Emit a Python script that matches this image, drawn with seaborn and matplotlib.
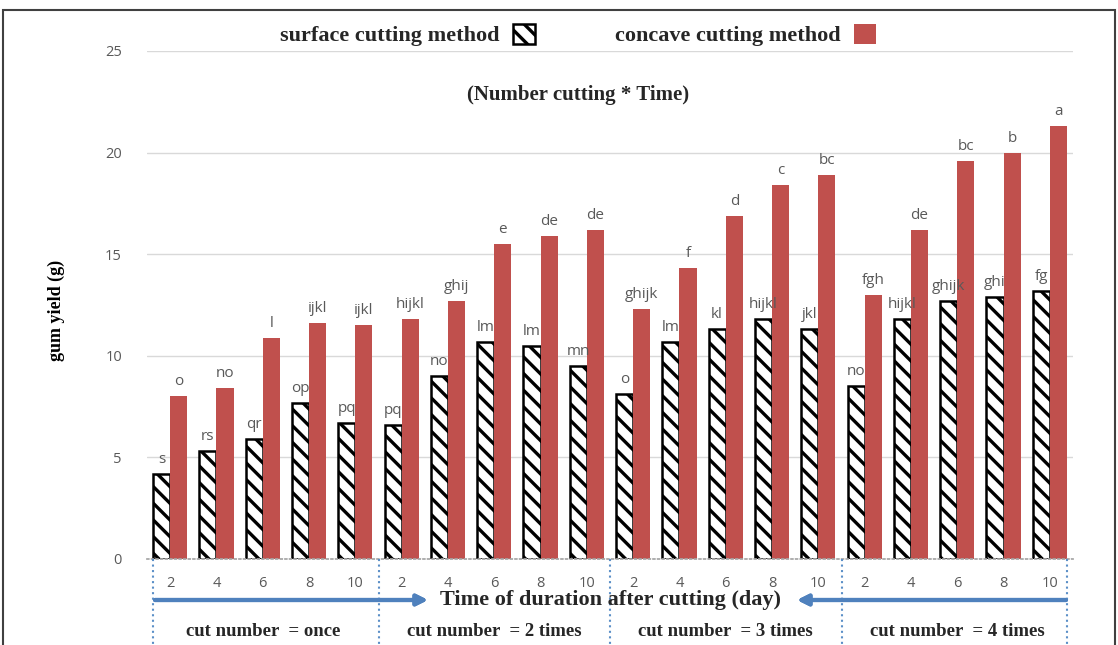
import matplotlib
matplotlib.use("Agg")
import matplotlib.pyplot as plt
import matplotlib.transforms as mtransforms
from matplotlib.patches import Patch, Rectangle
from matplotlib.lines import Line2D
import seaborn as sns
import pandas as pd

# ---- data ----
cut_numbers = ["once", "2 times", "3 times", "4 times"]
days = [2, 4, 6, 8, 10]
surface_yield = [4.2, 5.3, 5.9, 7.7, 6.7,
                 6.6, 9.0, 10.7, 10.5, 9.5,
                 8.1, 10.7, 11.3, 11.8, 11.3,
                 8.5, 11.8, 12.7, 12.9, 13.2]
concave_yield = [8.0, 8.4, 10.9, 11.6, 11.5,
                 11.8, 12.7, 15.5, 15.9, 16.2,
                 12.3, 14.3, 16.9, 18.4, 18.9,
                 13.0, 16.2, 19.6, 20.0, 21.3]
surface_letters = ["s", "rs", "qr", "op", "pq",
                   "pq", "no", "lm", "lm", "mn",
                   "o", "lm", "kl", "hijkl", "jkl",
                   "no", "hijkl", "ghijk", "ghi", "fg"]
concave_letters = ["o", "no", "l", "ijkl", "ijkl",
                   "hijkl", "ghij", "e", "de", "de",
                   "ghijk", "f", "d", "c", "bc",
                   "fgh", "de", "bc", "b", "a"]
methods = ["surface cutting method", "concave cutting method"]

# ---- long-form table ----
slots = [f"{c}|{d}" for c in cut_numbers for d in days]
df = pd.DataFrame({
    "slot": slots * 2,
    "method": [methods[0]] * len(slots) + [methods[1]] * len(slots),
    "yield": surface_yield + concave_yield,
})

W, H = 1118, 645
def fx(px):
    return px / W
def fy(py):
    return 1 - py / H

RED = "#C0504D"
GRAY = "#595959"
BLUE = "#4F81BD"
SERIF = ["Liberation Serif", "DejaVu Serif"]
SANS = ["Open Sans", "DejaVu Sans"]

sns.set_theme(style="white")
plt.rcParams["font.family"] = SANS
plt.rcParams["hatch.linewidth"] = 2.4

fig = plt.figure(figsize=(W / 100, H / 100), dpi=100)
ax = fig.add_axes([fx(147), fy(559), 926 / W, 508 / H])

sns.barplot(data=df, x="slot", y="yield", hue="method", order=slots,
            hue_order=methods, palette=["white", RED], saturation=1,
            width=0.74, gap=0, errorbar=None, legend=False, ax=ax)

# hatched outline bars for the surface method
for bar in ax.containers[0]:
    bar.set_facecolor("white")
    bar.set_edgecolor("black")
    bar.set_linewidth(1.8)
    bar.set_hatch("\\\\")
for bar in ax.containers[1]:
    bar.set_edgecolor("none")

# letters above the bars
for cont, letters in zip(ax.containers, [surface_letters, concave_letters]):
    for bar, lab in zip(cont, letters):
        ax.annotate(lab, (bar.get_x() + bar.get_width() / 2, bar.get_height()),
                    xytext=(0, 5), textcoords="offset points", ha="center",
                    va="bottom", color=GRAY, fontsize=11, family=SANS)

ax.set_ylim(0, 25)
ax.set_xlim(-0.5, len(slots) - 0.5)
ax.set_yticks([0, 5, 10, 15, 20, 25])
ax.yaxis.grid(True, color="#D9D9D9", lw=1)
ax.set_axisbelow(True)
for s in ["top", "right", "left"]:
    ax.spines[s].set_visible(False)
ax.spines["bottom"].set_color("#A6A6A6")
ax.spines["bottom"].set_linestyle(":")
ax.tick_params(axis="both", length=0, colors=GRAY, labelsize=10.5)
ax.tick_params(axis="y", pad=18)
ax.tick_params(axis="x", pad=12)
ax.set_xticks(range(len(slots)))
ax.set_xticklabels([str(d) for c in cut_numbers for d in days])
ax.set_xlabel("")
ax.set_ylabel("gum yield (g)", family=SERIF, fontweight="bold",
              fontsize=13, color="black")
ax.yaxis.set_label_coords((65 - 147) / 926, 0.49)

# legend at the top
handles = [Patch(facecolor="white", edgecolor="black", hatch="\\\\", lw=1.8),
           Patch(facecolor=RED, edgecolor="none")]
fig.legend(handles, methods, loc="center", bbox_to_anchor=(fx(578), fy(35)),
           ncol=2, markerfirst=False, frameon=False, columnspacing=3.6,
           handlelength=1.0, handleheight=1.0, handletextpad=0.6,
           prop=dict(family=SERIF, weight="bold", size=16))

fig.text(fx(578), fy(95), "(Number cutting * Time)", ha="center", va="center",
         family=SERIF, fontweight="bold", fontsize=15)

# group separators below the axis
blend = mtransforms.blended_transform_factory(ax.transData, fig.transFigure)
for xs in [-0.38, 4.5, 9.5, 14.5, 19.38]:
    fig.add_artist(Line2D([xs, xs], [fy(559), 0], transform=blend,
                          color="#5B8FC7", ls=":", lw=1.5))

# time axis caption with arrows
fig.text(fx(611), fy(600), "Time of duration after cutting (day)",
         ha="center", va="center", family=SERIF, fontweight="bold", fontsize=16)
arrow = dict(arrowstyle="-|>", color=BLUE, lw=3, mutation_scale=16,
             shrinkA=0, shrinkB=0)
fig.add_artist(plt.annotate("", xy=(fx(428), fy(600)), xytext=(fx(155), fy(600)),
                            xycoords="figure fraction", arrowprops=arrow))
fig.add_artist(plt.annotate("", xy=(fx(797), fy(600)), xytext=(fx(1066), fy(600)),
                            xycoords="figure fraction", arrowprops=arrow))

# cut number labels per group
for i, c in enumerate(cut_numbers):
    fig.text(i * 5 + 2, fy(632), f"cut number  = {c}", transform=blend,
             ha="center", va="center", family=SERIF, fontweight="bold",
             fontsize=13.5)

# outer frame
fig.add_artist(Rectangle((fx(3), fy(660)), fx(1115) - fx(3), fy(10) - fy(660),
                         transform=fig.transFigure, fill=False,
                         edgecolor="#404040", lw=1.5))

fig.savefig("out.png", dpi=100)
